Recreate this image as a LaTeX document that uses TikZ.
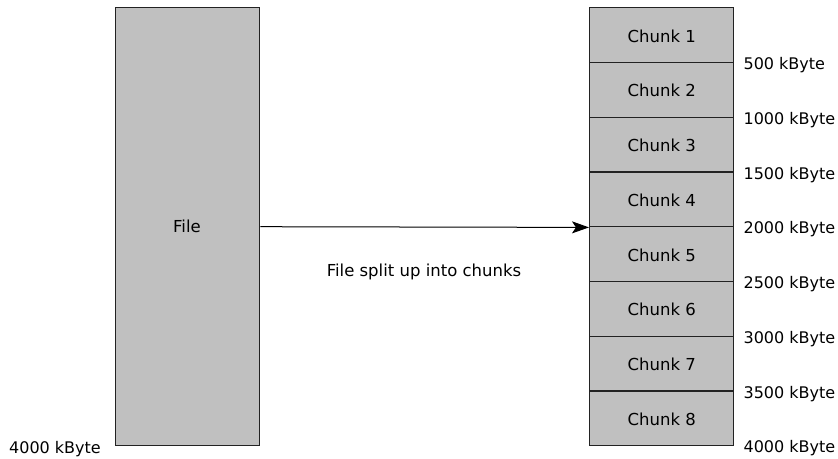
\documentclass[tikz,border=0pt]{standalone}
\usepackage{fontspec}
\setmainfont{DejaVu Sans}
\usetikzlibrary{arrows.meta,calc}
\definecolor{boxgray}{HTML}{C0C0C0}
\definecolor{edge}{HTML}{222222}
\begin{document}
\begin{tikzpicture}[x=1pt,y=-1pt,
  blk/.style={draw=edge,fill=boxgray,line width=1.4pt},
  lbl/.style={anchor=base west,inner sep=0pt,font=\fontsize{16}{18}\selectfont},
  txt/.style={anchor=base,inner sep=0pt,font=\fontsize{16.5}{18}\selectfont}]
\useasboundingbox (0,0) rectangle (838,458);
\node[blk,minimum width=144pt,minimum height=438pt,inner sep=0pt,anchor=north west] (file) at (115,7) {};
\node[txt] (filet) at (187,232) {File};
\foreach \i in {1,...,8}{
  \node[blk,minimum width=144pt,minimum height=54.75pt,inner sep=0pt,anchor=north west] (c\i) at (589,{7+(\i-1)*54.75}) {};
  \node[txt] (ct\i) at ($(c\i.center)+(0,7)$) {Chunk \i};
}
\foreach \i/\v in {1/500,2/1000,3/1500,4/2000,5/2500,6/3000,7/3500,8/4000}{
  \node[lbl] (l\i) at ($(c\i.south east)+(9,6.5)$) {\v\ kByte};
}
\node[anchor=base east,inner sep=0pt,font=\fontsize{16}{18}\selectfont] (lf) at ($(file.south west)+(-14,7)$) {4000 kByte};
\draw[line width=1pt,-{Stealth[length=17pt,width=12pt,inset=4pt]}] (file.east) -- (c4.south west);
\node[txt] (cap) at (424,276) {File split up into chunks};
\end{tikzpicture}
\end{document}
